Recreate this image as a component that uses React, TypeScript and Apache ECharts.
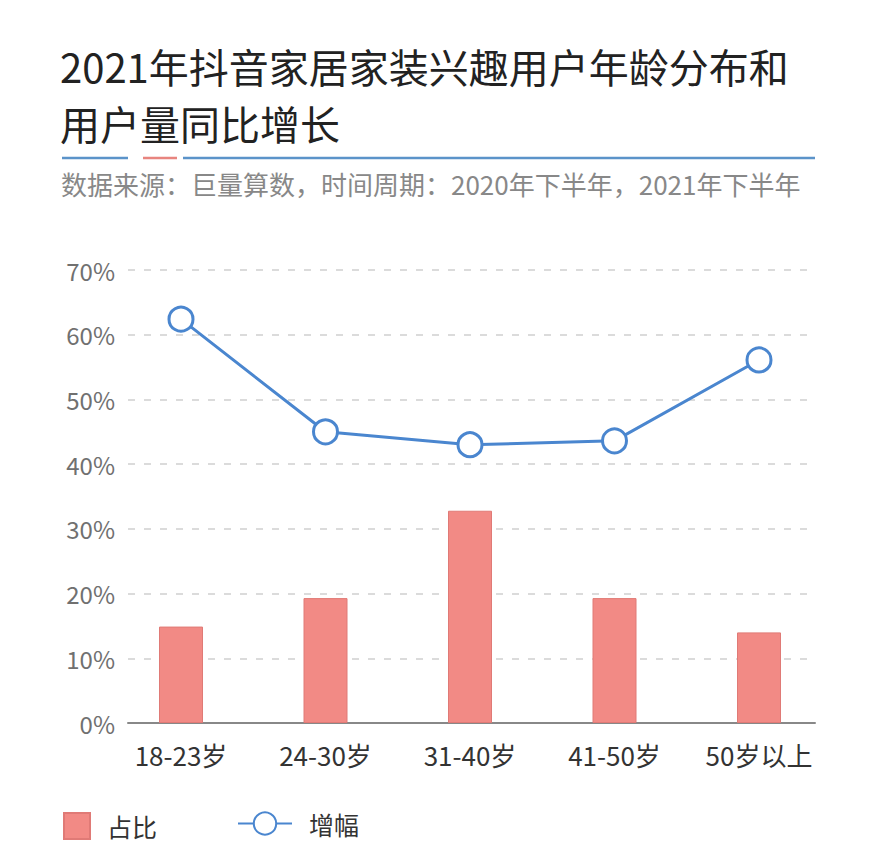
import React, { useEffect, useRef } from "react";
import * as echarts from "echarts";

const categories = ["18-23岁", "24-30岁", "31-40岁", "41-50岁", "50岁以上"];
const shareValues = [14.9, 19.3, 32.8, 19.3, 14.0];
const growthValues = [62.4, 45.0, 43.0, 43.6, 56.1];
const yTicks = { min: 0, max: 70, interval: 10 };
const titleText = "2021年抖音家居家装兴趣用户年龄分布和\n用户量同比增长";
const subtitleText = "数据来源：巨量算数，时间周期：2020年下半年，2021年下半年";

const FONT = "'Noto Sans CJK SC', 'Noto Sans', sans-serif";
const BLUE = "#4a86cf";
const RED = "#f28a85";

export default function App() {
  const ref = useRef<HTMLDivElement>(null);
  useEffect(() => {
    if (!ref.current) return;
    const chart = echarts.init(ref.current, undefined, { renderer: "svg" });
    const top = 270;
    const bottom = 868 - 723;
    chart.setOption({
      animation: false,
      backgroundColor: "#ffffff",
      textStyle: { fontFamily: FONT },
      title: [
        {
          text: titleText,
          left: 60,
          top: 37,
          padding: 0,
          textStyle: { fontSize: 40, lineHeight: 57, fontWeight: "normal", color: "#222222", fontFamily: FONT },
        },
        {
          text: subtitleText,
          left: 61,
          top: 170,
          padding: 0,
          textStyle: { fontSize: 26, fontWeight: "normal", color: "#888888", fontFamily: FONT },
        },
      ],
      graphic: [
        { type: "line", shape: { x1: 62, y1: 158, x2: 128, y2: 158 }, style: { stroke: "#5b93c9", lineWidth: 2.5 } },
        { type: "line", shape: { x1: 143, y1: 158, x2: 177, y2: 158 }, style: { stroke: "#e8857f", lineWidth: 2.5 } },
        { type: "line", shape: { x1: 183, y1: 158, x2: 815, y2: 158 }, style: { stroke: "#5b93c9", lineWidth: 2.5 } },
      ],
      legend: [
        {
          data: [{ name: "占比", icon: "rect" }],
          left: 63,
          top: 812,
          padding: 0,
          itemWidth: 26,
          itemHeight: 26,
          textStyle: { fontSize: 25, color: "#333333", padding: [0, 0, 0, 12], fontFamily: FONT },
        },
        {
          data: ["增幅"],
          left: 237,
          top: 811,
          padding: 0,
          itemWidth: 54,
          itemHeight: 28,
          textStyle: { fontSize: 25, color: "#333333", padding: [0, 0, 0, 12], fontFamily: FONT },
        },
      ],
      grid: [
        { left: 128, right: 886 - 815, top, bottom },
        { left: 108.75, right: 886 - 831.25, top, bottom },
      ],
      xAxis: [
        {
          type: "category",
          gridIndex: 0,
          data: categories,
          axisLine: { show: true, lineStyle: { color: "#888888", width: 2 } },
          axisTick: { show: false },
          axisLabel: { show: false },
        },
        {
          type: "category",
          gridIndex: 1,
          data: categories,
          axisLine: { show: false },
          axisTick: { show: false },
          axisLabel: { fontSize: 26, color: "#333333", margin: 18, fontFamily: FONT },
        },
      ],
      yAxis: [
        {
          type: "value",
          gridIndex: 0,
          min: yTicks.min,
          max: yTicks.max,
          interval: yTicks.interval,
          axisLine: { show: false },
          axisTick: { show: false },
          axisLabel: { formatter: "{value}%", fontSize: 24, color: "#707070", margin: 13, fontFamily: FONT },
          splitLine: { show: true, lineStyle: { color: "#d0d0d0", type: [7, 9], width: 1.5 } },
        },
        {
          type: "value",
          gridIndex: 1,
          min: yTicks.min,
          max: yTicks.max,
          interval: yTicks.interval,
          show: false,
          splitLine: { show: false },
        },
      ],
      series: [
        {
          name: "占比",
          type: "bar",
          xAxisIndex: 1,
          yAxisIndex: 1,
          data: shareValues,
          barWidth: 44,
          itemStyle: { color: RED, borderColor: "#e07a76", borderWidth: 1 },
        },
        {
          name: "增幅",
          type: "line",
          xAxisIndex: 1,
          yAxisIndex: 1,
          data: growthValues,
          symbol: "circle",
          symbolSize: 24,
          lineStyle: { color: BLUE, width: 3 },
          itemStyle: { color: "#ffffff", borderColor: BLUE, borderWidth: 3 },
          z: 3,
        },
      ],
    });
    return () => chart.dispose();
  }, []);
  return (
    <div
      ref={ref}
      style={{ position: "fixed", left: 0, top: 0, width: 886, height: 868, background: "#fff" }}
    />
  );
}
